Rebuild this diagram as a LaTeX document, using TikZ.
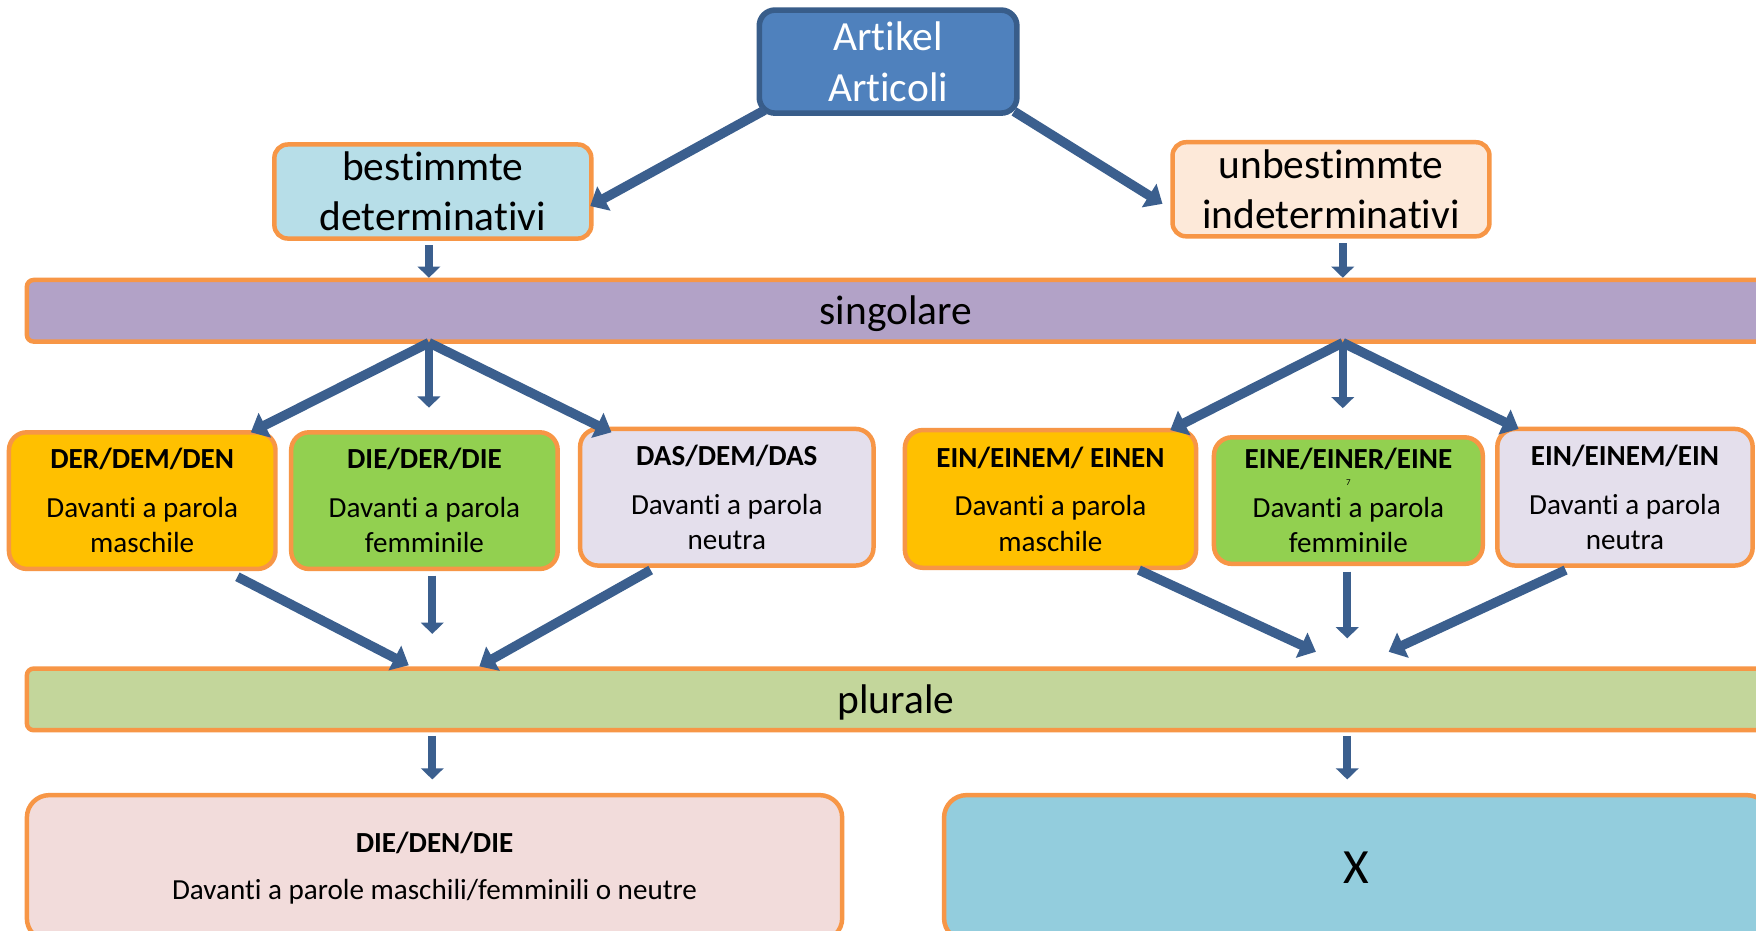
\documentclass[tikz,border=0pt]{standalone}
\usepackage{fontspec}
\setmainfont{Carlito}[Ligatures={CommonOff,ContextualOff},Contextuals=AlternateOff]
\usetikzlibrary{arrows.meta,calc}
\definecolor{ob}{HTML}{F79646}
\definecolor{arr}{HTML}{3B5F8E}
\definecolor{artf}{HTML}{4F81BD}
\definecolor{artb}{HTML}{385D8A}
\definecolor{besf}{HTML}{B7DEE8}
\definecolor{unbf}{HTML}{FDE9D9}
\definecolor{singf}{HTML}{B2A2C7}
\definecolor{plurf}{HTML}{C3D69B}
\definecolor{mf}{HTML}{FFC000}
\definecolor{ff}{HTML}{92D050}
\definecolor{nf}{HTML}{E4DFEC}
\definecolor{blf}{HTML}{F2DCDB}
\definecolor{brf}{HTML}{93CDDD}
\begin{document}
\begin{tikzpicture}[x=1pt,y=-1pt,
  obox/.style={draw=ob, line width=4pt, rounded corners=16pt, inner sep=0pt, align=center},
  bar/.style={draw=ob, line width=4pt, rounded corners=6pt, inner sep=0pt},
  big/.style={font=\fontsize{37}{45}\selectfont},
  small/.style={font=\fontsize{26}{31.5}\selectfont},
  arrw/.style={draw=arr, line width=8.5pt, -{Triangle[length=14pt,width=24pt]}},
  arrn/.style={draw=arr, line width=7pt, -{Triangle[length=10pt,width=20pt]}}]
\clip (0,0) rectangle (1568,831);
\fill[white] (0,0) rectangle (1568,831);

% top
\node[obox, draw=artb, line width=5pt, rounded corners=14pt, fill=artf, text=white, big,
  minimum width=230, minimum height=92] (art) at (793,55) {Artikel\\Articoli};
\node[obox, rounded corners=12pt, fill=besf, big, minimum width=283, minimum height=84] (bes) at (386.5,171) {bestimmte\\determinativi};
\node[obox, rounded corners=12pt, fill=unbf, big, minimum width=283, minimum height=84] (unb) at (1188.5,169) {unbestimmte\\indeterminativi};

% bars
\node[bar, fill=singf, minimum width=1776, minimum height=55] (sing) at (912,277.5) {};
\node[big] (singt) at (800,280) {singolare};
\node[bar, fill=plurf, minimum width=1776, minimum height=55] (plur) at (912,624.5) {};
\node[big] (plurt) at (800,627) {plurale};

% middle row
\node[obox, fill=mf, small, minimum width=238, minimum height=122] (der) at (127,447)
  {\textbf{DER/DEM/DEN}\\[12pt]Davanti a parola\\maschile};
\node[obox, fill=ff, small, minimum width=238, minimum height=122] (die) at (379,447)
  {\textbf{DIE/DER/DIE}\\[12pt]Davanti a parola\\femminile};
\node[obox, fill=nf, small, minimum width=262, minimum height=122] (das) at (649,444)
  {\textbf{DAS/DEM/DAS}\\[12pt]Davanti a parola\\neutra};
\node[obox, fill=mf, small, minimum width=260, minimum height=123] (ein1) at (938,445.5)
  {\textbf{EIN/EINEM/ EINEN}\\[12pt]Davanti a parola\\maschile};
\node[obox, fill=ff, small, minimum width=240, minimum height=113] (eine) at (1204,447)
  {\textbf{EINE/EINER/EINE}\\[12pt]Davanti a parola\\femminile};
\node[font=\fontsize{8}{8}\selectfont] (seven) at (1204,431) {7};
\node[obox, fill=nf, small, minimum width=228, minimum height=122] (ein3) at (1451,444)
  {\textbf{EIN/EINEM/EIN}\\[12pt]Davanti a parola\\neutra};

% bottom row
\node[obox, rounded corners=20pt, fill=blf, small, minimum width=728, minimum height=130] (bl) at (388,775)
  {\textbf{DIE/DEN/DIE}\\[11pt]Davanti a parole maschili/femminili o neutre};
\node[obox, rounded corners=20pt, fill=brf, font=\fontsize{44}{50}\selectfont, minimum width=737, minimum height=130] (br) at (1211.5,775) {X};

% coordinates for free ends
\coordinate (lO) at (383,306);
\coordinate (rO) at (1199,306);
\coordinate (lP) at (386,597);
\coordinate (rP) at (1203,597);

% connectors top
\draw[arrw] ($(art.south west)+(7,-5)$) -- ($(bes.east)+(-3,13)$);
\draw[arrw] ($(art.south east)+(-5,-4)$) -- ($(unb.west)+(-7,13)$);
\draw[arrn] (bes.south -| lO) ++(0,4) -- (sing.north -| lO);
\draw[arrn] (unb.south -| rO) ++(0,4) -- (sing.north -| rO);

% singolare to middle row
\draw[arrw] (lO) -- ($(der.north east)+(-24,2)$);
\draw[arrn] (lO) -- ($(lO |- die.north)+(0,-20)$);
\draw[arrw] (lO) -- ($(das.north west)+(30,5)$);
\draw[arrw] (rO) -- ($(ein1.north east)+(-25,2)$);
\draw[arrn] (rO) -- ($(rO |- eine.north)+(0,-24)$);
\draw[arrw] (rO) -- ($(ein3.north west)+(21,2)$);

% middle row to plurale
\draw[arrw] ($(der.south east)+(-36,5)$) -- ($(lP)+(-21,-3)$);
\draw[arrn] (lP |- die.south) ++(0,4) -- ($(lP)+(0,-31)$);
\draw[arrw] ($(das.south)+(-68,2)$) -- ($(lP)+(42,-2)$);
\draw[arrw] ($(ein1.south)+(79,0)$) -- ($(rP)+(-28,-15)$);
\draw[arrn] (rP |- eine.south) ++(0,5) -- ($(rP)+(0,-27)$);
\draw[arrw] ($(ein3.south)+(-53,2)$) -- ($(rP)+(37,-15)$);

% plurale to bottom
\draw[arrn] (plur.south -| lP) ++(0,3) -- ($(bl.north -| lP)+(0,-12)$);
\draw[arrn] (plur.south -| rP) ++(0,3) -- ($(br.north -| rP)+(0,-12)$);
\end{tikzpicture}
\end{document}
